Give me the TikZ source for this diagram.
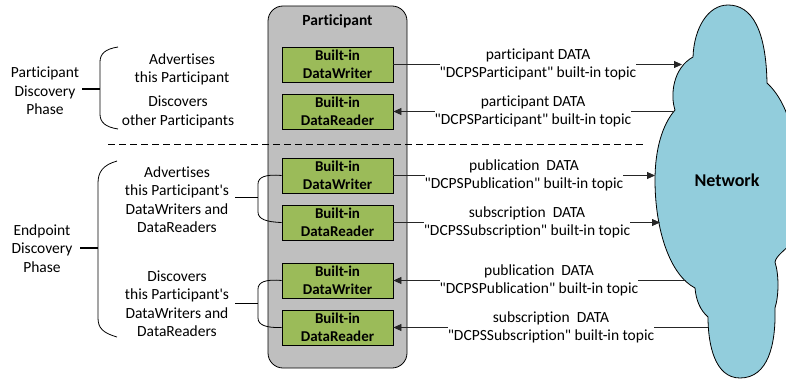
\documentclass[tikz,border=0pt]{standalone}
\usepackage{fontspec}
\newfontfamily\cf{Carlito}[Ligatures={NoCommon}]
\usetikzlibrary{arrows.meta}
\definecolor{boxgreen}{HTML}{9BBB59}
\definecolor{partgray}{HTML}{BFBFBF}
\definecolor{cloudblue}{HTML}{92CDDC}
\begin{document}
\begin{tikzpicture}[x=1pt,y=-1pt,
  every node/.style={font=\cf\fontsize{15.5}{18.5}\selectfont, inner sep=0pt},
  txt/.style={align=center},
  boldtxt/.style={font=\cf\bfseries\fontsize{15.5}{18.5}\selectfont},
  builtin/.style={draw=black, line width=0.8pt, fill=boxgreen, minimum width=111pt,
    minimum height=35pt, align=center, font=\cf\bfseries\fontsize{15}{18.5}\selectfont},
  conn/.style={line width=0.8pt, draw=black!85},
  arr/.style={conn, -{Triangle[length=8pt,width=7pt]}},
  lbl/.style={fill=white, align=center},
  bracket/.style={line width=0.8pt, draw=black},
  tick/.style={line width=1.1pt, draw=black},
  sep/.style={line width=0.8pt, dash pattern=on 7pt off 4pt}]
\useasboundingbox (0,0) rectangle (786,382);

% cloud
\begin{scope}
\clip (0,0) rectangle (786,382);
\draw[fill=cloudblue, line width=0.8pt]
  (693,57) .. controls (694,28) and (708,5) .. (728,5)
  .. controls (752,5) and (766,30) .. (767,83)
  .. controls (780,95) and (790,115) .. (795,145)
  -- (795,240)
  .. controls (785,250) and (776,256) .. (775,262)
  .. controls (779,275) and (779,295) .. (775,308)
  .. controls (776,345) and (768,378) .. (740,378)
  .. controls (715,378) and (708,345) .. (708,317)
  .. controls (700,310) and (696,300) .. (695,288)
  .. controls (670,275) and (655,230) .. (655,180)
  .. controls (655,150) and (662,125) .. (675,110)
  .. controls (670,95) and (673,68) .. (693,57) -- cycle;
\end{scope}
\node[boldtxt, font=\cf\bfseries\fontsize{18}{21}\selectfont] (net) at (727,180) {Network};

% participant container
\node[draw=black, fill=partgray, rounded corners=15pt, line width=0.8pt,
      minimum width=139pt, minimum height=362pt] (part) at (337.5,187) {};
\node[boldtxt] (ptitle) at (337.5,21) {Participant};

% built-in endpoints
\node[builtin] (w1) at (337.5,64.5) {Built-in\\DataWriter};
\node[builtin] (r1) at (337.5,111.5) {Built-in\\DataReader};
\node[builtin] (w2) at (337.5,175.5) {Built-in\\DataWriter};
\node[builtin] (r2) at (337.5,222.5) {Built-in\\DataReader};
\node[builtin] (w3) at (337.5,280.5) {Built-in\\DataWriter};
\node[builtin] (r3) at (337.5,327.5) {Built-in\\DataReader};

% separator
\coordinate (d1) at (108,144);
\coordinate (d2) at (643,144);
\draw[sep] (d1) -- (d2);

% network attachment points
\coordinate (c1) at (682,64.5);
\coordinate (c2) at (673,111.5);
\coordinate (c3) at (655,175.5);
\coordinate (c4) at (660,222.5);
\coordinate (c5) at (686,280.5);
\coordinate (c6) at (708,327.5);

\draw[arr] (w1.east) -- (c1);
\draw[arr] (c2) -- (r1.east);
\draw[arr] (w2.east) -- (c3);
\draw[arr] (r2.east) -- (c4);
\draw[arr] (c5) -- (w3.east);
\draw[arr] (c6) -- (r3.east);

\node[lbl] (l1) at (538,64.5) {participant DATA\\"DCPSParticipant" built-in topic};
\node[lbl] (l2) at (533,111.5) {participant DATA\\"DCPSParticipant" built-in topic};
\node[lbl] (l3) at (524,175.5) {publication\ \ DATA\\"DCPSPublication" built-in topic};
\node[lbl] (l4) at (527,222.5) {subscription\ \ DATA\\"DCPSSubscription" built-in topic};
\node[lbl] (l5) at (539,280.5) {publication\ \ DATA\\"DCPSPublication" built-in topic};
\node[lbl] (l6) at (551,327.5) {subscription\ \ DATA\\"DCPSSubscription" built-in topic};

% left side: phases
\node[txt] (pdp) at (45,91) {Participant\\Discovery\\Phase};
\node[txt] (edp) at (42,248.5) {Endpoint\\Discovery\\Phase};

\node[txt] (adv1) at (182,69.5) {Advertises\\this Participant};
\node[txt] (dis1) at (178,112) {Discovers\\other Participants};
\node[txt] (adv2) at (177,199.5) {Advertises\\this Participant's\\DataWriters and\\DataReaders};
\node[txt] (dis2) at (177,303.5) {Discovers\\this Participant's\\DataWriters and\\DataReaders};

% big braces
\draw[bracket] (118,47) .. controls (105,49) and (100,54) .. (100,62)
  -- (100,114) .. controls (100,122) and (105,127) .. (118,129);
\coordinate (t1a) at (82,89);
\coordinate (t1b) at (100,89);
\draw[tick] (t1a) -- (t1b);

\draw[bracket] (117,161) .. controls (103,165) and (98,172) .. (98,183)
  -- (98,318) .. controls (98,328) and (103,333) .. (117,337);
\coordinate (t2a) at (80,248);
\coordinate (t2b) at (98,248);
\draw[tick] (t2a) -- (t2b);

% small brackets
\draw[bracket] (w2.west) .. controls (266,174) and (258,177) .. (258,184)
  -- (258,212) .. controls (258,219) and (266,222) .. (r2.west);
\coordinate (t3a) at (235,197.5);
\coordinate (t3b) at (258,197.5);
\draw[tick] (t3a) -- (t3b);

\draw[bracket] (w3.west) .. controls (266,279) and (258,282) .. (258,289)
  -- (258,318) .. controls (258,325) and (266,328) .. (r3.west);
\coordinate (t4a) at (235,303.5);
\coordinate (t4b) at (258,303.5);
\draw[tick] (t4a) -- (t4b);
\end{tikzpicture}
\end{document}
